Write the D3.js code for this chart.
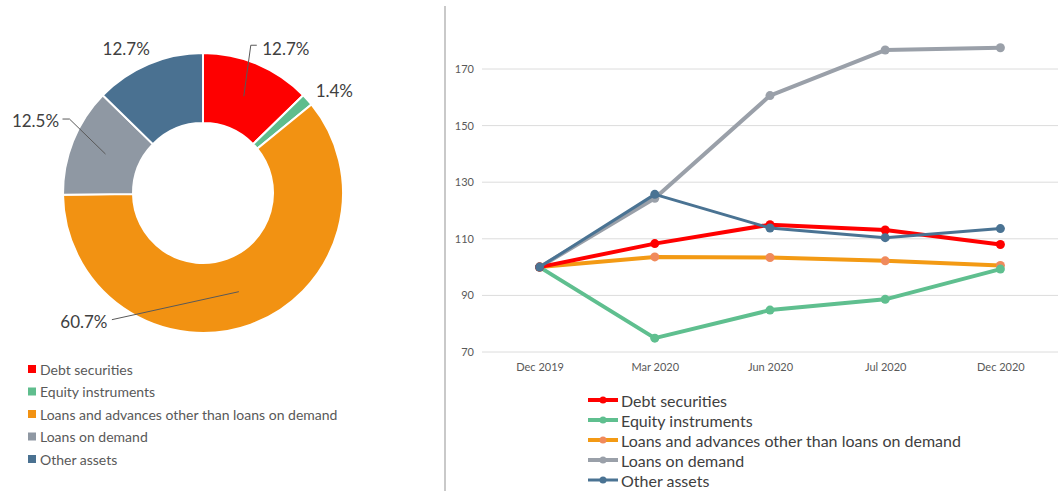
<!DOCTYPE html>
<html>
<head>
<meta charset="utf-8">
<script src="https://cdn.jsdelivr.net/npm/d3@7"></script>
<style>
  body { margin: 0; background: #fff; }
  svg { display: block; font-family: Lato, "Open Sans", sans-serif; }
</style>
</head>
<body>
<svg id="chart" width="1059" height="491"></svg>
<script>
// Data
var categories = [
  "Debt securities",
  "Equity instruments",
  "Loans and advances other than loans on demand",
  "Loans on demand",
  "Other assets"
];
var shares = [12.7, 1.4, 60.7, 12.5, 12.7];

var periods = ["Dec 2019", "Mar 2020", "Jun 2020", "Jul 2020", "Dec 2020"];
var debtSecurities = [100, 108.3, 115.0, 113.1, 108.0];
var equityInstruments = [100, 74.9, 84.8, 88.6, 99.3];
var loansAndAdvances = [100, 103.6, 103.4, 102.2, 100.6];
var loansOnDemand = [100, 124.3, 160.6, 176.7, 177.5];
var otherAssets = [100, 125.7, 113.8, 110.4, 113.6];
var yTicks = [70, 90, 110, 130, 150, 170];

// Styles
var sliceColors = ["#fe0000", "#5fbd8d", "#f29212", "#8f98a3", "#4a7191"];
var lineColors = ["#ff0000", "#5fbf8f", "#f39a14", "#9aa0a9", "#4a7393"];
var markerColors = ["#ff0000", "#5fbf8f", "#f08a5c", "#9aa0a9", "#4a7393"];
var lineWidths = [4, 4, 4, 4, 3];

var svg = d3.select("#chart");

// Divider between the two panels
svg.append("line")
    .attr("x1", 445).attr("x2", 445)
    .attr("y1", 6).attr("y2", 491)
    .attr("stroke", "#c9c9c9")
    .attr("stroke-width", 2);

// ---- Donut ----
var cx = 203, cy = 193;
var outerR = 140, innerR = 70;

var pie = d3.pie().sort(null).value(function(d) { return d; });
var arc = d3.arc().innerRadius(innerR).outerRadius(outerR);
var slices = pie(shares);

var donut = svg.append("g").attr("transform", "translate(" + cx + "," + cy + ")");

donut.selectAll("path.slice")
    .data(slices)
  .enter().append("path")
    .attr("class", "slice")
    .attr("d", arc)
    .attr("fill", function(d, i) { return sliceColors[i]; })
    .attr("stroke", "#fff")
    .attr("stroke-width", 2);

// label placement relative to each slice centroid (Excel-ish positions)
var labelOffset = [[42, -48], [53, -33], [-155, 30], [-70, -34], [-36, -48]];
// leader lines: which labels get one, and where they hook
var leaders = {
  0: function(c, l) { return [c, [c[0] + 7, l[1] - 3], [c[0] + 13, l[1] - 3]]; },
  3: function(c, l) { return [[l[0] + 27, l[1] - 1], [l[0] + 34, l[1] - 1], c]; },
  2: function(c, l) { return [[l[0] + 28, l[1] - 2], c]; }
};

slices.forEach(function(d, i) {
  var c = arc.centroid(d);
  var l = [c[0] + labelOffset[i][0], c[1] + labelOffset[i][1]];
  if (leaders[i]) {
    donut.append("path")
        .attr("d", d3.line()(leaders[i](c, l)))
        .attr("fill", "none")
        .attr("stroke", "#595959")
        .attr("stroke-width", 1);
  }
  donut.append("text")
      .attr("x", l[0])
      .attr("y", l[1])
      .attr("text-anchor", "middle")
      .attr("dominant-baseline", "central")
      .attr("font-size", 17)
      .attr("fill", "#404040")
      .text(d3.format(".1f")(d.data) + "%");
});

// Donut legend
var pieLegend = svg.append("g").attr("transform", "translate(28,369)");
var pieItems = pieLegend.selectAll("g")
    .data(categories)
  .enter().append("g")
    .attr("transform", function(d, i) { return "translate(0," + (i * 22.5) + ")"; });
pieItems.append("rect")
    .attr("x", 0).attr("y", -4)
    .attr("width", 8).attr("height", 8)
    .attr("fill", function(d, i) { return sliceColors[i]; });
pieItems.append("text")
    .attr("x", 12)
    .attr("dominant-baseline", "central")
    .attr("font-size", 14)
    .attr("fill", "#595959")
    .text(function(d) { return d; });

// ---- Line chart ----
var series = [debtSecurities, equityInstruments, loansAndAdvances, loansOnDemand, otherAssets];

var x = d3.scalePoint().domain(periods).range([482, 1058]).padding(0.5);
var y = d3.scaleLinear().domain([70, 190]).range([352, 12.4]);

svg.append("g")
    .selectAll("line")
    .data(yTicks)
  .enter().append("line")
    .attr("x1", 482).attr("x2", 1058)
    .attr("y1", function(d) { return y(d); })
    .attr("y2", function(d) { return y(d); })
    .attr("stroke", "#dcdcdc")
    .attr("stroke-width", 1);

var yAxis = svg.append("g")
    .attr("transform", "translate(474,0)")
    .call(d3.axisLeft(y).tickValues(yTicks).tickSize(0).tickPadding(0));
yAxis.select(".domain").remove();
yAxis.selectAll("text")
    .attr("font-family", "Lato, sans-serif")
    .attr("font-size", 11)
    .attr("fill", "#595959");

var xAxis = svg.append("g")
    .attr("transform", "translate(0,360)")
    .call(d3.axisBottom(x).tickSize(0).tickPadding(3));
xAxis.select(".domain").remove();
xAxis.selectAll("text")
    .attr("font-family", "Lato, sans-serif")
    .attr("font-size", 11)
    .attr("fill", "#595959");

var line = d3.line()
    .x(function(d, i) { return x(periods[i]); })
    .y(function(d) { return y(d); });

// draw in back-to-front order so blue sits on top of gray, etc.
var drawOrder = [3, 2, 1, 0, 4];
drawOrder.forEach(function(k) {
  var g = svg.append("g");
  g.append("path")
      .datum(series[k])
      .attr("d", line)
      .attr("fill", "none")
      .attr("stroke", lineColors[k])
      .attr("stroke-width", lineWidths[k])
      .attr("stroke-linejoin", "round");
  g.selectAll("circle")
      .data(series[k])
    .enter().append("circle")
      .attr("cx", function(d, i) { return x(periods[i]); })
      .attr("cy", function(d) { return y(d); })
      .attr("r", 4.5)
      .attr("fill", markerColors[k]);
});

// Line legend
var lineLegend = svg.append("g").attr("transform", "translate(588,400)");
var lineItems = lineLegend.selectAll("g")
    .data(categories)
  .enter().append("g")
    .attr("transform", function(d, i) { return "translate(0," + (i * 20) + ")"; });
lineItems.append("line")
    .attr("x1", 0).attr("x2", 30)
    .attr("stroke", function(d, i) { return lineColors[i]; })
    .attr("stroke-width", function(d, i) { return lineWidths[i]; });
lineItems.append("circle")
    .attr("cx", 15)
    .attr("r", 3.5)
    .attr("fill", function(d, i) { return markerColors[i]; });
lineItems.append("text")
    .attr("x", 33)
    .attr("dominant-baseline", "central")
    .attr("font-size", 16)
    .attr("fill", "#404040")
    .text(function(d) { return d; });
</script>
</body>
</html>
